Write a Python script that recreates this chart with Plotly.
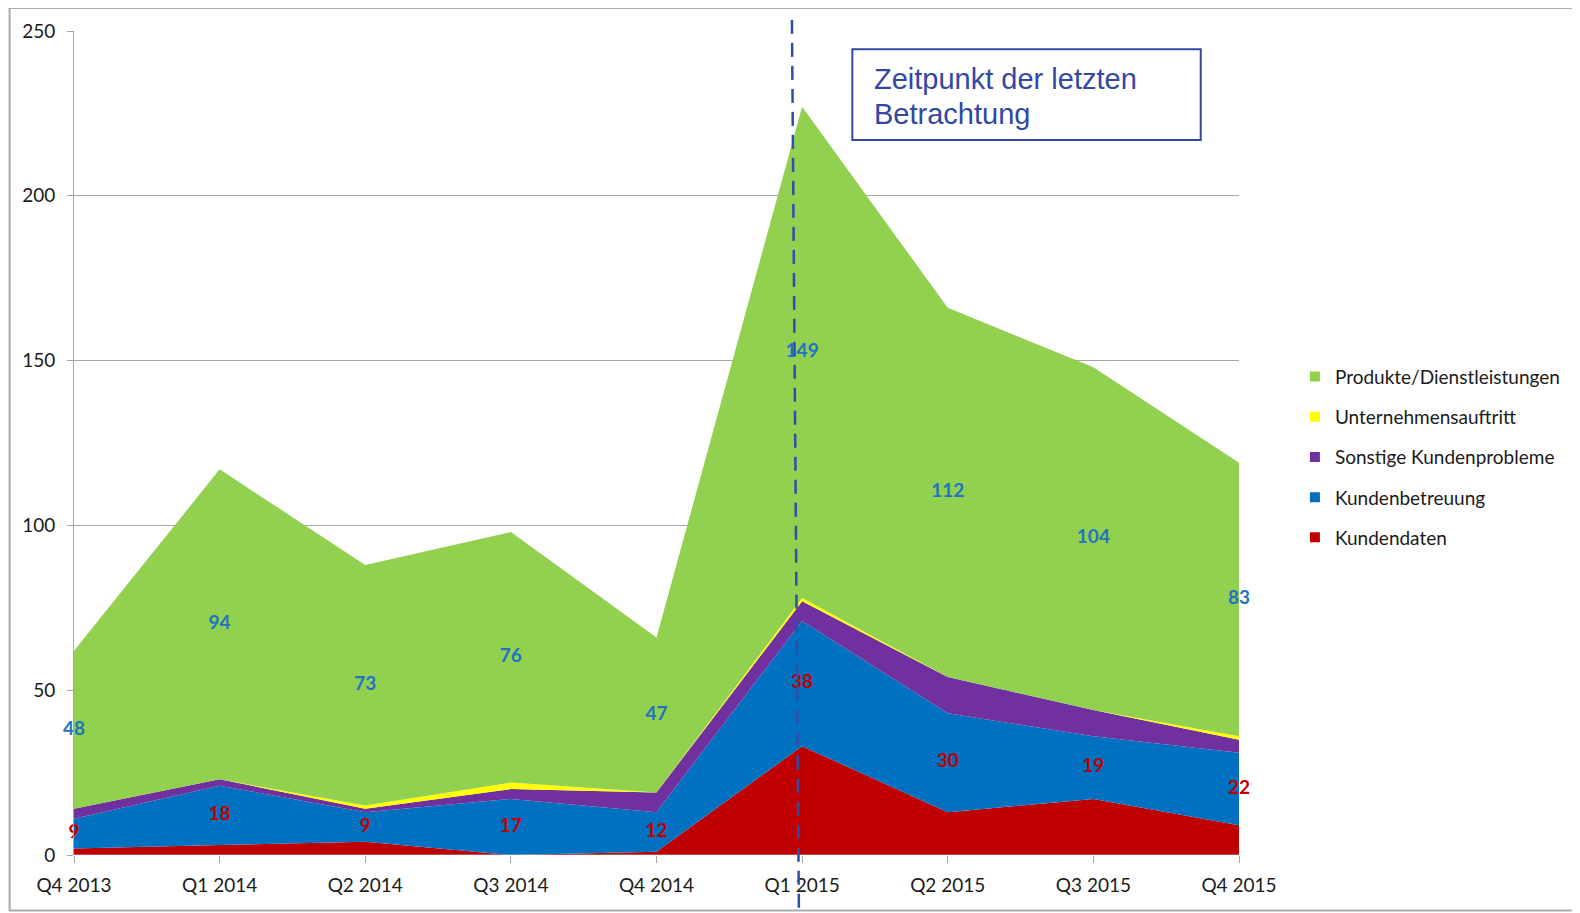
import plotly.graph_objects as go

quarters = ["Q4 2013", "Q1 2014", "Q2 2014", "Q3 2014", "Q4 2014",
            "Q1 2015", "Q2 2015", "Q3 2015", "Q4 2015"]
kundendaten = [2, 3, 4, 0, 1, 33, 13, 17, 9]
kundenbetreuung = [9, 18, 9, 17, 12, 38, 30, 19, 22]
sonstige = [3, 2, 1, 3, 6, 6, 11, 8, 4]
unternehmensauftritt = [0, 0, 1, 2, 0, 1, 0, 0, 1]
produkte = [48, 94, 73, 76, 47, 149, 112, 104, 83]

series = [
    ("Kundendaten", kundendaten, "#c00000"),
    ("Kundenbetreuung", kundenbetreuung, "#0070c0"),
    ("Sonstige Kundenprobleme", sonstige, "#7030a0"),
    ("Unternehmensauftritt", unternehmensauftritt, "#ffff00"),
    ("Produkte/Dienstleistungen", produkte, "#92d050"),
]

xs = list(range(len(quarters)))
fig = go.Figure()
for name, vals, col in series:
    fig.add_trace(go.Scatter(
        x=xs, y=vals, name=name, stackgroup="one", mode="none",
        fillcolor=col, line=dict(width=0), showlegend=False, hoverinfo="skip"))

# legend proxies with small square markers (top to bottom: Produkte ... Kundendaten)
for i, (name, vals, col) in enumerate(reversed(series)):
    fig.add_trace(go.Scatter(
        x=[None], y=[None], name=name, mode="markers",
        marker=dict(symbol="square", size=10, color=col),
        legendgroup=f"g{i}", showlegend=True))

# data labels
cum_blue_mid = [r + b / 2 for r, b in zip(kundendaten, kundenbetreuung)]
below_green = [r + b + s + u for r, b, s, u in zip(kundendaten, kundenbetreuung, sonstige, unternehmensauftritt)]
green_mid = [bg + p / 2 for bg, p in zip(below_green, produkte)]

fig.add_trace(go.Scatter(
    x=xs, y=cum_blue_mid, mode="text", text=[f"<b>{v}</b>" for v in kundenbetreuung],
    textfont=dict(family="Lato", size=19, color="#c00000"),
    showlegend=False, hoverinfo="skip", cliponaxis=False))
fig.add_trace(go.Scatter(
    x=xs, y=green_mid, mode="text", text=[f"<b>{v}</b>" for v in produkte],
    textfont=dict(family="Lato", size=19, color="#1f72c4"),
    showlegend=False, hoverinfo="skip", cliponaxis=False))

grid = "#a6a6a6"
fig.update_layout(
    width=1580, height=913,
    margin=dict(l=66, r=349, t=23, b=66, autoexpand=False),
    paper_bgcolor="white", plot_bgcolor="white",
    font=dict(family="Lato", size=19, color="#1a1a1a"),
    xaxis=dict(
        range=[0, 8], tickmode="array", tickvals=xs, ticktext=quarters,
        showgrid=False, zeroline=False, showline=False, automargin=False,
        ticks="outside", ticklen=7, tickcolor=grid, tickwidth=1,
        tickfont=dict(family="Lato", size=19, color="#1a1a1a"),
        ticklabelstandoff=6),
    yaxis=dict(
        range=[0, 250], tickvals=[0, 50, 100, 150, 200, 250],
        showgrid=True, gridcolor=grid, gridwidth=1, zeroline=False,
        showline=True, linecolor=grid, linewidth=1, automargin=False,
        ticks="outside", ticklen=6, tickcolor=grid,
        tickfont=dict(family="Lato", size=19, color="#1a1a1a"),
        ticklabelstandoff=8),
    legend=dict(
        xref="container", yref="container",
        x=0.8145, y=0.617, xanchor="left", yanchor="top",
        traceorder="grouped", tracegroupgap=12.5,
        font=dict(family="Lato", size=19, color="#1a1a1a"),
        itemwidth=30, bgcolor="rgba(0,0,0,0)"),
    showlegend=True,
)

# x-axis baseline
fig.add_shape(type="line", xref="x", yref="y", x0=0, x1=8, y0=0, y1=0,
              line=dict(color=grid, width=1), layer="above")

# outer frame
fig.add_shape(type="rect", xref="paper", yref="paper",
              x0=-0.08, x1=1.4, y0=1.028, y1=1.05,
              fillcolor="#e8eef4", line=dict(width=0), layer="below")
fig.add_shape(type="rect", xref="paper", yref="paper",
              x0=-0.0553, x1=1.32, y0=-0.0673, y1=1.028,
              line=dict(color="#a8acb0", width=2), fillcolor="rgba(0,0,0,0)", layer="below")

# dashed vertical marker line
fig.add_shape(type="line", xref="x", yref="paper",
              x0=4.93, x1=4.978, y0=1.0135, y1=-0.0698,
              line=dict(color="#2f4ea8", width=2.5, dash="14px,9px"), layer="above")

# annotation box
fig.add_shape(type="rect", xref="paper", yref="paper",
              x0=(846 - 73) / 1157, x1=(1192 - 73) / 1157,
              y0=(848 - 139) / 817, y1=(848 - 49) / 817,
              line=dict(color="#3347a3", width=2), fillcolor="white", layer="above")
ann_lines = ["Zeitpunkt der letzten", "Betrachtung"]
for i, line in enumerate(ann_lines):
    fig.add_annotation(
        xref="paper", yref="paper", x=(866 - 73) / 1157, y=(848 - 79 - 34.5 * i) / 817,
        xanchor="left", yanchor="middle", text=line, showarrow=False,
        font=dict(family="Liberation Sans", size=29, color="#3347a3"))

fig.write_html("out.html")
